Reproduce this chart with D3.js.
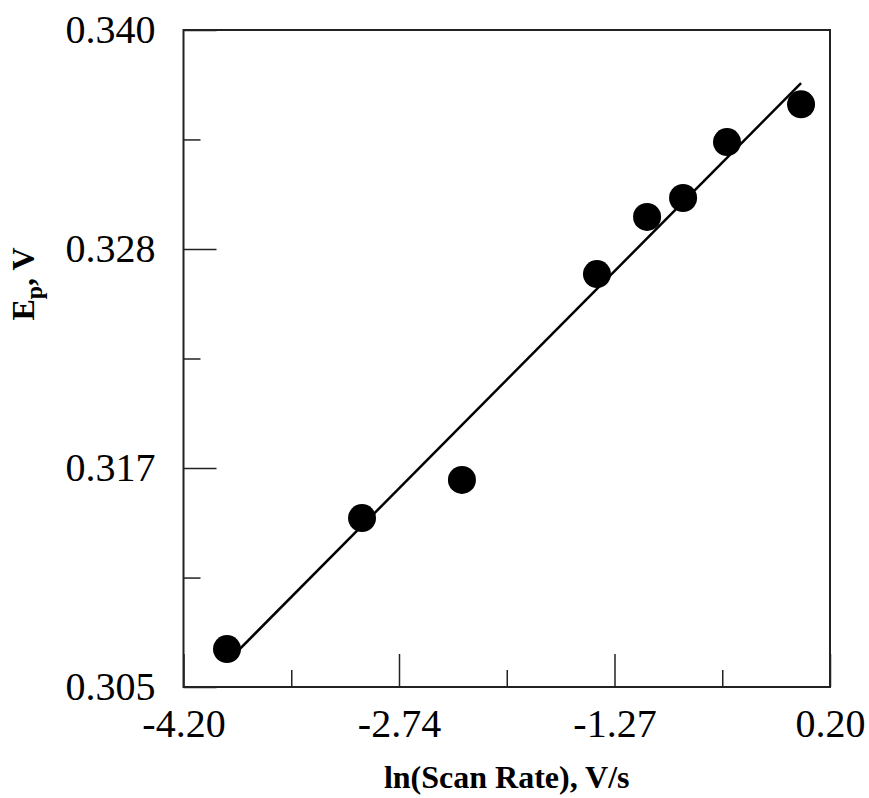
<!DOCTYPE html>
<html>
<head>
<meta charset="utf-8">
<script src="https://cdn.jsdelivr.net/npm/d3@7"></script>
<style>
  html, body { margin: 0; padding: 0; background: #fff; }
  svg { display: block; }
</style>
</head>
<body>
<svg id="chart" width="869" height="798"></svg>
<script>
// ---- data ----
const lnScanRate = [-3.904, -2.985, -2.305, -1.386, -1.045, -0.800, -0.501, 0.003];
const peakPotential = [0.30702, 0.31400, 0.31603, 0.32700, 0.33004, 0.33105, 0.33403, 0.33604];
const fitX = [-3.904, 0.003];
const fitY = [0.30634, 0.33717];

const xDomain = [-4.20, 0.20];
const yDomain = [0.305, 0.340];
const xMajorTicks = [-4.20, -2.7333, -1.2667, 0.20];
const xTickLabels = ["-4.20", "-2.74", "-1.27", "0.20"];
const xMinorTicks = [-3.4667, -2.0, -0.5333];
const yMajorTicks = [0.305, 0.31667, 0.32833, 0.340];
const yTickLabels = ["0.305", "0.317", "0.328", "0.340"];
const yMinorTicks = [0.31083, 0.3225, 0.33417];

// ---- layout ----
const margin = { left: 183.5, top: 30, right: 39, bottom: 111 };
const W = 869, H = 798;
const iw = W - margin.left - margin.right;
const ih = H - margin.top - margin.bottom;

const svg = d3.select("#chart");
const g = svg.append("g").attr("transform", `translate(${margin.left},${margin.top})`);

const x = d3.scaleLinear().domain(xDomain).range([0, iw]);
const y = d3.scaleLinear().domain(yDomain).range([ih, 0]);

const font = "'Liberation Serif', 'Times New Roman', serif";

// x axis major ticks (inside) with labels
const xAxis = d3.axisBottom(x).tickValues(xMajorTicks)
  .tickSizeInner(-33).tickSizeOuter(0).tickPadding(22)
  .tickFormat((d, i) => xTickLabels[i]);
const gx = g.append("g").attr("transform", `translate(0,${ih})`).call(xAxis);
gx.attr("font-family", font);
gx.select(".domain").remove();
gx.selectAll(".tick line").attr("stroke", "#222").attr("stroke-width", 1.5);
gx.selectAll(".tick text").attr("font-family", font).attr("font-size", 40).attr("fill", "#000");

// x minor ticks
const gxm = g.append("g").attr("transform", `translate(0,${ih})`)
  .call(d3.axisBottom(x).tickValues(xMinorTicks).tickSizeInner(-17).tickSizeOuter(0).tickFormat(""));
gxm.select(".domain").remove();
gxm.selectAll(".tick line").attr("stroke", "#222").attr("stroke-width", 1.5);

// y axis major ticks (inside) with labels
const yAxis = d3.axisLeft(y).tickValues(yMajorTicks)
  .tickSizeInner(-33).tickSizeOuter(0).tickPadding(28)
  .tickFormat((d, i) => yTickLabels[i]);
const gy = g.append("g").call(yAxis);
gy.attr("font-family", font);
gy.select(".domain").remove();
gy.selectAll(".tick line").attr("stroke", "#222").attr("stroke-width", 1.5);
gy.selectAll(".tick text").attr("font-family", font).attr("font-size", 40).attr("fill", "#000");

// y minor ticks
const gym = g.append("g")
  .call(d3.axisLeft(y).tickValues(yMinorTicks).tickSizeInner(-17).tickSizeOuter(0).tickFormat(""));
gym.select(".domain").remove();
gym.selectAll(".tick line").attr("stroke", "#222").attr("stroke-width", 1.5);

// frame
g.append("rect").attr("x", 0).attr("y", 0).attr("width", iw).attr("height", ih)
  .attr("fill", "none").attr("stroke", "#222").attr("stroke-width", 2);

// fit line
const line = d3.line().x(d => x(d[0])).y(d => y(d[1]));
g.append("path").datum(fitX.map((v, i) => [v, fitY[i]]))
  .attr("d", line).attr("fill", "none").attr("stroke", "#000").attr("stroke-width", 2.5);

// points
g.selectAll("circle.pt").data(lnScanRate.map((v, i) => [v, peakPotential[i]]))
  .enter().append("circle").attr("class", "pt")
  .attr("cx", d => x(d[0])).attr("cy", d => y(d[1])).attr("r", 14).attr("fill", "#000");

// axis titles
svg.append("text").attr("x", margin.left + iw / 2).attr("y", 788)
  .attr("text-anchor", "middle").attr("font-family", font).attr("font-weight", "bold")
  .attr("font-size", 32).attr("fill", "#000").text("ln(Scan Rate), V/s");

const yt = svg.append("text").attr("transform", "translate(34,284) rotate(-90)")
  .attr("text-anchor", "middle").attr("font-family", font).attr("font-weight", "bold")
  .attr("font-size", 32).attr("fill", "#000");
yt.append("tspan").text("E");
yt.append("tspan").attr("font-size", 24).attr("dy", 8).text("p");
yt.append("tspan").attr("dy", -8).text(", V");
</script>
</body>
</html>
